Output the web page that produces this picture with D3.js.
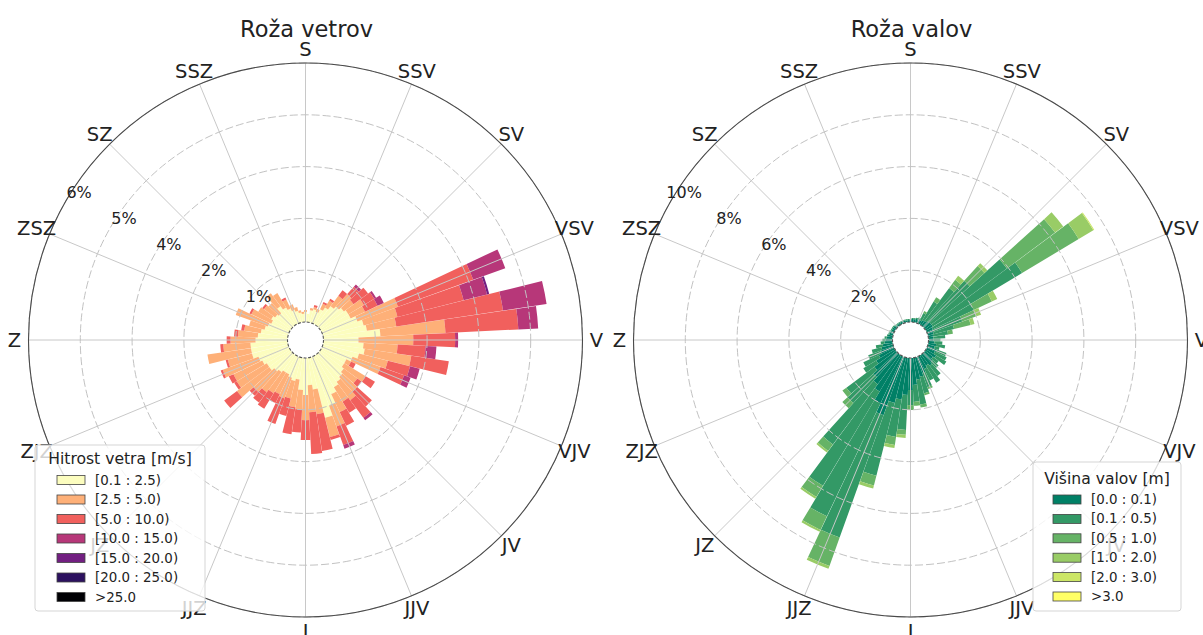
<!DOCTYPE html>
<html>
<head>
<meta charset="utf-8">
<script src="https://cdn.jsdelivr.net/npm/d3@7"></script>
<style>
  body { margin: 0; background: #fff; }
  text { font-family: "DejaVu Sans", sans-serif; fill: #222; }
</style>
</head>
<body>
<div id="chart"></div>
<script>
// ************ GLOBAL CONSTANTS ************
const FRAME_WIDTH = 1203;
const FRAME_HEIGHT = 635;
const NSECTOR = 64;
const HOLE = 18;
const RADIUS = 277;
const LABEL_R = 291;
const OPENING = 0.985;

const DIRS = ["S", "SSV", "SV", "VSV", "V", "VJV", "JV", "JJV",
              "J", "JJZ", "JZ", "ZJZ", "Z", "ZSZ", "SZ", "SSZ"];

// ************ WIND DATA (% per 5.625 deg sector, from north clockwise) ************
const WIND_TITLE = "Roža vetrov";
const WIND_LEGEND = "Hitrost vetra [m/s]";
const WIND_BINS = ["[0.1 : 2.5)", "[2.5 : 5.0)", "[5.0 : 10.0)", "[10.0 : 15.0)",
                   "[15.0 : 20.0)", "[20.0 : 25.0)", ">25.0"];
const WIND_TICKS = [1.2, 2.4, 3.6, 4.8, 6.0];

const WIND_0 = [0.23,0.19,0.28,0.32,0.28,0.37,0.46,0.56,0.63,0.69,0.74,0.74,0.86,0.97,1.02,1.32,
                0.81,0.93,0.97,0.86,0.74,0.63,0.63,0.69,0.74,0.79,0.86,0.97,1.20,1.44,0.74,0.63,
                0.86,0.74,0.51,0.56,0.51,0.46,0.46,0.51,0.56,0.63,0.63,0.69,0.74,0.86,0.86,0.86,
                0.74,0.69,0.63,0.56,0.51,0.46,0.51,0.46,0.42,0.56,0.46,0.39,0.32,0.28,0.23,0.19];
const WIND_1 = [0.05,0,0.05,0.05,0.07,0.14,0.19,0.30,0.39,0.28,0.42,0.37,1.00,0.81,0.69,1.51,
                1.27,0.79,1.09,0.69,0.69,0.12,0.58,0.39,0.46,0.53,0.39,0.46,0.51,0.46,0.58,0.63,
                0.58,0.46,0.65,0.42,0.51,0.51,0.56,0.58,0.65,0.93,0.81,0.74,0.88,0.58,1.02,0.63,
                0.58,0.46,0.39,0.37,0.79,0.51,0.35,0.32,0.32,0.37,0.39,0.23,0.14,0.09,0.05,0.05];
const WIND_2 = [0,0,0,0.05,0,0.05,0.05,0.16,0.23,0.42,0.28,0.32,1.85,1.58,2.50,1.69,
                0.97,0.65,0.88,0.53,0.58,0.12,0.25,0.12,0.46,0.51,0.30,0.35,0.46,0.07,0.86,0.97,
                0.46,0.53,0.63,0.42,0.63,0.23,0.42,0.30,0.12,0.37,0.07,0.12,0.05,0.05,0,0.07,
                0.09,0.09,0.07,0,0,0.05,0,0.05,0,0,0,0.05,0,0,0,0];
const WIND_3 = [0,0,0,0,0,0,0,0,0.07,0,0.05,0.16,0.79,0.56,1.02,0.46,
                0.07,0.25,0,0.23,0.16,0,0,0,0,0.07,0,0,0.09,0,0,0,
                0,0,0,0,0,0,0,0,0,0,0,0,0,0,0,0,
                0,0,0,0,0,0,0,0,0,0,0,0,0,0,0,0];
const WIND_4 = [0,0,0,0,0,0,0,0,0,0,0,0,0,0.05,0,0,
                0,0,0,0,0,0,0,0,0,0,0,0,0,0,0,0,
                0,0,0,0,0,0,0,0,0,0,0,0,0,0,0,0,
                0,0,0,0,0,0,0,0,0,0,0,0,0,0,0,0];
const WIND_5 = [0,0,0,0,0,0,0,0,0,0,0,0,0,0,0,0,
                0,0,0,0,0,0,0,0,0,0,0,0,0,0,0,0,
                0,0,0,0,0,0,0,0,0,0,0,0,0,0,0,0,
                0,0,0,0,0,0,0,0,0,0,0,0,0,0,0,0];
const WIND_6 = WIND_5.slice();

// ************ WAVE DATA ************
const WAVE_TITLE = "Roža valov";
const WAVE_LEGEND = "Višina valov [m]";
const WAVE_BINS = ["[0.0 : 0.1)", "[0.1 : 0.5)", "[0.5 : 1.0)", "[1.0 : 2.0)", "[2.0 : 3.0)", ">3.0"];
const WAVE_TICKS = [2, 4, 6, 8, 10];

const WAVE_0 = [0.08,0.12,0.12,0.15,0.15,0.15,0.19,0.23,0.27,0.31,0.31,0.27,0.23,0.23,0.19,0.19,
                0.19,0.23,0.31,0.27,0.39,0.35,0.46,0.39,0.46,0.54,0.46,0.54,0.66,0.77,0.85,1.04,
                1.24,1.43,1.62,1.81,2.39,2.01,1.62,1.43,1.24,1.04,0.85,0.66,0.54,0.46,0.39,0.31,
                0.27,0.23,0.19,0.15,0.15,0.12,0.12,0.12,0.08,0.08,0.08,0.08,0.08,0.08,0.08,0.08];
const WAVE_1 = [0.04,0.04,0.04,0.04,0.08,0.31,0.85,1.58,2.12,3.63,4.02,1.74,1.20,0.81,0.58,0.46,
                0.27,0.31,0.35,0.19,0.39,0.50,0.46,0.27,0.31,0.50,0.77,0.50,0.58,0.66,0.97,0.66,
                0.58,1.35,1.47,2.90,5.02,4.83,4.25,2.90,1.35,1.35,0.58,0.66,0.50,0.39,0.27,0.15,
                0.12,0.08,0.04,0.04,0.04,0.04,0.04,0.04,0.04,0.04,0.04,0.04,0.04,0.04,0.04,0.04];
const WAVE_2 = [0,0,0,0,0,0.08,0.19,0.39,0.77,2.32,2.55,0.77,0.58,0.66,0.19,0,
                0,0,0,0,0,0,0,0,0,0,0,0,0.08,0.08,0.12,0.15,
                0.19,0.19,0.31,0.39,1.16,0.58,0.50,0.31,0.27,0.19,0,0,0,0,0,0,
                0,0,0,0,0,0,0,0,0,0,0,0,0,0,0,0];
const WAVE_3 = [0,0,0,0,0,0,0,0.19,0.15,0.39,0.66,0.23,0.19,0.15,0,0,
                0,0,0,0,0,0,0,0,0,0,0,0,0,0,0,0,
                0,0.12,0.12,0.12,0.12,0.08,0.08,0.08,0,0,0,0,0,0,0,0,
                0,0,0,0,0,0,0,0,0,0,0,0,0,0,0,0];
const WAVE_4 = [0,0,0,0,0,0,0,0,0,0,0.04,0,0,0,0,0,
                0,0,0,0,0,0,0,0,0,0,0,0,0,0,0,0,
                0,0,0,0,0,0,0,0,0,0,0,0,0,0,0,0,
                0,0,0,0,0,0,0,0,0,0,0,0,0,0,0,0];
const WAVE_5 = WIND_5.slice();

// colour ramps (magma reversed / summer)
const WIND_COLORS = WIND_BINS.map((d, i) => d3.interpolateMagma(1 - i / (WIND_BINS.length - 1)));
const WAVE_COLORS = WAVE_BINS.map((d, i) => {
  const t = i / (WAVE_BINS.length - 1);
  return d3.rgb(255 * t, 255 * (0.5 + t / 2), 102).formatHex();
});

const SVG = d3.select("#chart")
  .append("svg")
  .attr("width", FRAME_WIDTH)
  .attr("height", FRAME_HEIGHT);

function polar(r, deg) {
  const a = deg * Math.PI / 180;
  return [r * Math.sin(a), -r * Math.cos(a)];
}

function drawRose(cfg) {
  const g = SVG.append("g").attr("transform", "translate(" + cfg.cx + "," + cfg.cy + ")");
  const rScale = d3.scaleLinear().domain([0, cfg.rmax]).range([HOLE, RADIUS]);
  const step = 2 * Math.PI / NSECTOR;

  // table rows for d3.stack
  const keys = cfg.bins;
  const rows = d3.range(NSECTOR).map((i) => {
    const row = { i: i };
    keys.forEach((k, b) => { row[k] = cfg.series[b][i]; });
    return row;
  });
  const stacked = d3.stack().keys(keys)(rows);

  const arc = d3.arc()
    .innerRadius((d) => rScale(d[0]))
    .outerRadius((d) => rScale(d[1]))
    .startAngle((d) => (d.data.i - OPENING / 2) * step)
    .endAngle((d) => (d.data.i + OPENING / 2) * step);

  // BARS
  g.append("g").selectAll("g")
    .data(stacked)
    .enter()
    .append("g")
    .attr("fill", (d, b) => cfg.colors[b])
    .selectAll("path")
    .data((d) => d.filter((s) => s[1] - s[0] > 0))
    .enter()
    .append("path")
    .attr("d", arc);

  // GRID
  g.append("g").selectAll("line")
    .data(d3.range(16))
    .enter()
    .append("line")
    .attr("x1", (d) => polar(HOLE, d * 22.5)[0])
    .attr("y1", (d) => polar(HOLE, d * 22.5)[1])
    .attr("x2", (d) => polar(RADIUS, d * 22.5)[0])
    .attr("y2", (d) => polar(RADIUS, d * 22.5)[1])
    .attr("stroke", "#c8c8c8")
    .attr("stroke-width", 1);

  g.append("g").selectAll("circle")
    .data(cfg.ticks)
    .enter()
    .append("circle")
    .attr("r", (d) => rScale(d))
    .attr("fill", "none")
    .attr("stroke", "#c2c2c2")
    .attr("stroke-width", 1)
    .attr("stroke-dasharray", "8,3");

  // outer spine + hole
  g.append("circle").attr("r", RADIUS).attr("fill", "none")
    .attr("stroke", "#4a4a4a").attr("stroke-width", 1.1);
  g.append("circle").attr("r", HOLE).attr("fill", "#fff")
    .attr("stroke", "#555").attr("stroke-width", 1.1).attr("stroke-dasharray", "3,1.5");

  // radial labels
  g.append("g").selectAll("text")
    .data(cfg.ticks)
    .enter()
    .append("text")
    .attr("x", (d) => polar(rScale(d), 300)[0] + 13.5)
    .attr("y", (d) => polar(rScale(d), 300)[1] - 9)
    .attr("text-anchor", "middle")
    .attr("dominant-baseline", "central")
    .attr("font-size", "16px")
    .text((d) => d3.format(".0f")(d) + "%");

  // direction labels
  g.append("g").selectAll("text")
    .data(DIRS)
    .enter()
    .append("text")
    .attr("x", (d, i) => polar(LABEL_R, i * 22.5)[0])
    .attr("y", (d, i) => polar(LABEL_R, i * 22.5)[1])
    .attr("text-anchor", "middle")
    .attr("dominant-baseline", "central")
    .attr("font-size", "19.5px")
    .text((d) => d);

  // title
  SVG.append("text")
    .attr("x", cfg.cx + 1)
    .attr("y", 37)
    .attr("text-anchor", "middle")
    .attr("font-size", "22.5px")
    .text(cfg.title);

  // LEGEND
  const L = cfg.legend;
  const lg = SVG.append("g");
  lg.append("rect")
    .attr("x", L.x).attr("y", L.y).attr("width", L.w).attr("height", L.h)
    .attr("rx", 3)
    .attr("fill", "#fff").attr("fill-opacity", 0.8)
    .attr("stroke", "#d5d5d5").attr("stroke-width", 1);
  lg.append("text")
    .attr("x", L.x + L.w / 2).attr("y", L.titleY)
    .attr("text-anchor", "middle")
    .attr("font-size", "15.6px")
    .text(cfg.legendTitle);
  const items = lg.selectAll("g.item")
    .data(cfg.bins)
    .enter()
    .append("g")
    .attr("transform", (d, i) => "translate(0," + (L.row0 + i * L.rowStep) + ")");
  items.append("rect")
    .attr("x", L.px).attr("y", -4.5).attr("width", 28).attr("height", 9)
    .attr("fill", (d, i) => cfg.colors[i])
    .attr("stroke", "#444").attr("stroke-width", 0.8);
  items.append("text")
    .attr("x", L.tx).attr("y", 0)
    .attr("dominant-baseline", "central")
    .attr("font-size", "13.4px")
    .text((d) => d);
}

drawRose({
  cx: 305.5, cy: 340, rmax: 6.0, ticks: WIND_TICKS, title: WIND_TITLE,
  bins: WIND_BINS, colors: WIND_COLORS,
  series: [WIND_0, WIND_1, WIND_2, WIND_3, WIND_4, WIND_5, WIND_6],
  legendTitle: WIND_LEGEND,
  legend: { x: 35, y: 445, w: 170, h: 166, titleY: 464, row0: 480, rowStep: 19.5, px: 57, tx: 95 }
});

drawRose({
  cx: 910.5, cy: 340, rmax: 10, ticks: WAVE_TICKS, title: WAVE_TITLE,
  bins: WAVE_BINS, colors: WAVE_COLORS,
  series: [WAVE_0, WAVE_1, WAVE_2, WAVE_3, WAVE_4, WAVE_5],
  legendTitle: WAVE_LEGEND,
  legend: { x: 1033, y: 462, w: 148, h: 149, titleY: 484, row0: 499.5, rowStep: 19.4, px: 1053, tx: 1091 }
});
</script>
</body>
</html>
